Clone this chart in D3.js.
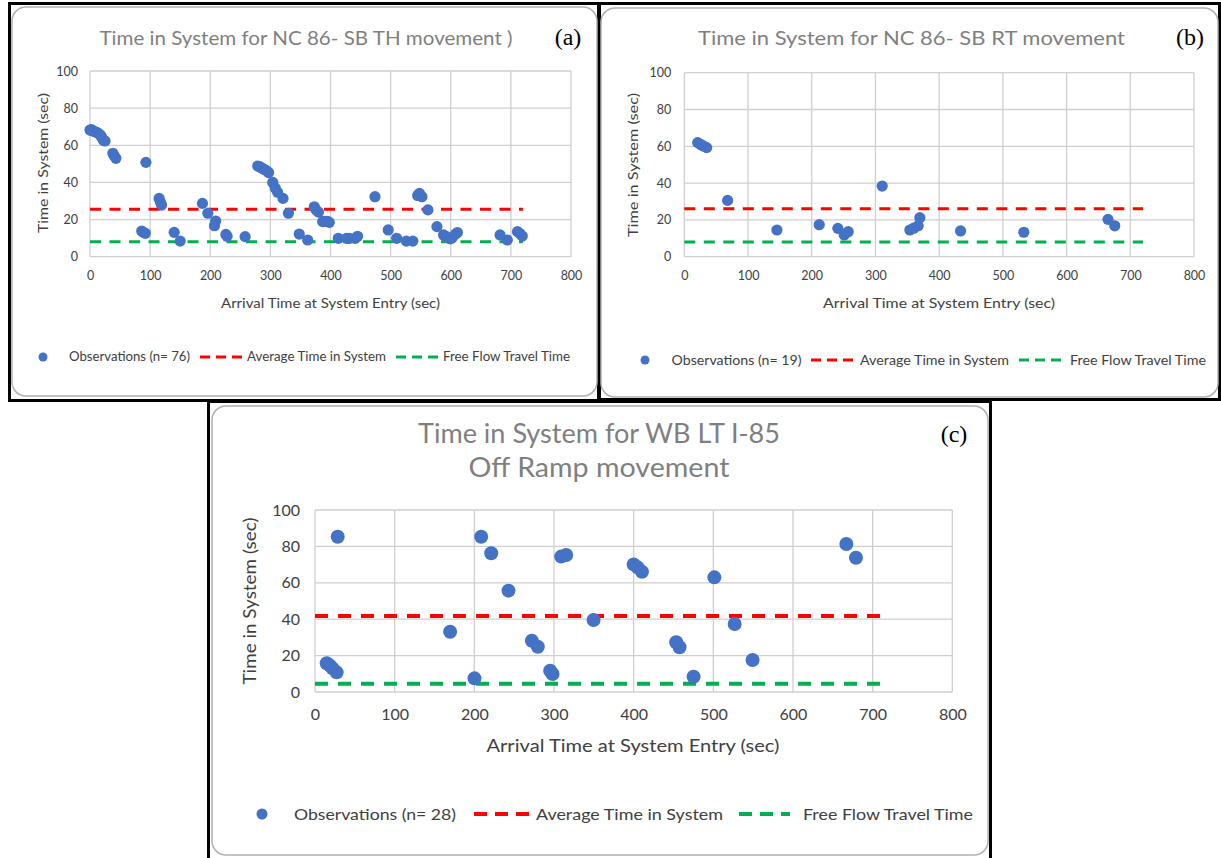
<!DOCTYPE html>
<html><head><meta charset="utf-8">
<script src="https://cdn.jsdelivr.net/npm/d3@7"></script>
<style>
body{margin:0;background:#fff;}
svg{display:block;font-family:Lato,'Open Sans',sans-serif;}
</style>
</head><body>
<svg id="chart" width="1221" height="858"></svg>
<script>
// ---------- DATA ----------
const xTickValues = [0,100,200,300,400,500,600,700,800];
const yTickValues = [0,20,40,60,80,100];

// Panel (a): NC 86 - SB TH
const obsA_arrival = [0,2,4,8,11,14,17,19,22,25,38,40,43,86,88,92,93,115,117,119,140,150,187,196,207,209,226,228,258,279,282,285,287,290,294,297,304,308,312,321,330,348,362,373,376,380,387,390,395,398,413,427,431,441,445,474,496,510,526,537,545,548,552,562,577,588,592,599,602,608,611,682,694,711,715,719];
const obsA_time    = [68.2,68.5,67.8,67.4,67,66.4,65.5,64.6,62.8,62.3,55.7,54.5,53,13.8,13.3,12.6,50.8,31.4,29.5,27.8,13.1,8.4,28.7,23.4,16.7,19.2,12,11,10.8,48.8,48.5,47.9,47.5,47,46.2,45.3,40,37,34.7,31.4,23.4,12.2,9,26.9,25.2,24,18.9,19,19,18.5,9.9,9.9,9.9,9.9,11,32.3,14.4,9.9,8.4,8.4,33,34.1,32.3,25.2,16.2,11.7,11,9.6,10,12.2,13,11.7,9,13.5,12.5,11.1];
const avgA = 25.5, freeA = 8.1;

// Panel (b): NC 86 - SB RT
const obsB_arrival = [21,25.7,29.8,35.1,68,145.4,211.8,241,251,257.3,310.6,354,360,367,369.7,433.6,532.9,665,675.6];
const obsB_time    = [62,61,60.2,59.3,30.6,14.5,17.4,15.4,11.8,13.6,38.4,14.5,15.5,16.8,21.2,14,13.3,20.3,16.8];
const avgB = 26.1, freeB = 8.0;

// Panel (c): WB LT I-85 Off Ramp
const obsC_arrival = [14.7,18.8,22,27.2,28.5,169.6,200.2,208.6,221.2,242.9,272.2,279.7,295.2,298.2,309,315.3,349.7,400,405,410.4,453.4,457.6,475.2,501.3,526.8,549.3,667,679.1];
const obsC_time    = [15.8,14.5,13,10.8,85.3,33.1,7.5,85.3,76.2,55.7,28.2,24.9,11.7,9.9,74.4,75.3,39.6,70.1,68.5,66.1,27.3,24.6,8.4,63,37.4,17.6,81.3,73.8];
const avgC = 41.8, freeC = 4.5;

const lineRange = [0, 720];
const titleA = ["Time in System for  NC 86- SB TH movement )"];
const titleB = ["Time in System for  NC 86- SB RT movement"];
const titleC = ["Time in System for WB LT I-85", "Off Ramp  movement"];
const xTitle = "Arrival Time at System Entry (sec)";
const yTitle = "Time in System (sec)";
const legendLabels = ["Average Time in System", "Free Flow Travel Time"];

// ---------- DRAW ----------
const svg = d3.select("#chart");
svg.append("rect").attr("width",1221).attr("height",858).attr("fill","#fff");

const BLUE="#4472C4", RED="#FF0000", GREEN="#00B050";

function panel(cfg){
  const g = svg.append("g");
  g.append("rect").attr("x",cfg.frame[0]).attr("y",cfg.frame[1]).attr("width",cfg.frame[2]).attr("height",cfg.frame[3])
    .attr("fill","#fff").attr("stroke","#000").attr("stroke-width",3);
  g.append("rect").attr("x",cfg.inner[0]).attr("y",cfg.inner[1]).attr("width",cfg.inner[2]).attr("height",cfg.inner[3])
    .attr("rx",14).attr("fill","#fff").attr("stroke","#b0b0b0").attr("stroke-width",1.5);

  const x = d3.scaleLinear().domain([0,800]).range(cfg.xr);
  const y = d3.scaleLinear().domain([0,100]).range(cfg.yr);

  const grid = g.append("g").attr("stroke","#cfcfcf").attr("stroke-width",1.3);
  xTickValues.forEach(v=>grid.append("line").attr("x1",x(v)).attr("x2",x(v)).attr("y1",y(0)).attr("y2",y(100)));
  yTickValues.forEach(v=>grid.append("line").attr("y1",y(v)).attr("y2",y(v)).attr("x1",x(0)).attr("x2",x(800)));

  const ax = g.append("g").attr("transform",`translate(0,${y(0)})`)
    .call(d3.axisBottom(x).tickValues(xTickValues).tickSize(0).tickPadding(cfg.xpad));
  const ay = g.append("g").attr("transform",`translate(${x(0)},0)`)
    .call(d3.axisLeft(y).tickValues(yTickValues).tickSize(0).tickPadding(cfg.ypad));
  [ax,ay].forEach(a=>{a.select(".domain").remove();
    a.selectAll("text").attr("fill","#404040").style("font-size",cfg.tickFont+"px").style("font-family","Lato, sans-serif");});

  const lines = [[cfg.avg,RED],[cfg.ff,GREEN]];
  lines.forEach(([v,c])=>{
    g.append("line").attr("x1",x(lineRange[0])).attr("x2",x(lineRange[1])).attr("y1",y(v)).attr("y2",y(v))
      .attr("stroke",c).attr("stroke-width",cfg.lw).attr("stroke-dasharray",cfg.dash);
  });

  g.append("g").selectAll("circle").data(cfg.xs.map((d,i)=>[d,cfg.ys[i]])).join("circle")
    .attr("cx",d=>x(d[0])).attr("cy",d=>y(d[1])).attr("r",cfg.r).attr("fill",BLUE);

  cfg.title.forEach((t,i)=>{
    g.append("text").attr("x",cfg.titleX).attr("y",cfg.titleY+i*cfg.titleLH).attr("text-anchor","middle")
      .attr("fill","#7f7f7f").style("font-size",cfg.titleFont+"px").attr("textLength",cfg.titleW[i]).attr("lengthAdjust","spacingAndGlyphs").text(t);
  });
  g.append("text").attr("x",cfg.tagX).attr("y",cfg.tagY).attr("text-anchor","middle")
    .style("font-family","'Liberation Serif','Times New Roman',serif").style("font-size",cfg.tagFont+"px").attr("fill","#000").text(cfg.tag);

  g.append("text").attr("x",cfg.xtX).attr("y",cfg.xtY).attr("text-anchor","middle").attr("fill","#404040")
    .style("font-size",cfg.axFont+"px").attr("textLength",cfg.xtW).attr("lengthAdjust","spacingAndGlyphs").text(xTitle);
  g.append("text").attr("transform",`translate(${cfg.ytX},${cfg.ytY}) rotate(-90)`).attr("text-anchor","middle")
    .attr("dy","0.35em").attr("fill","#404040").style("font-size",cfg.axFont+"px")
    .attr("textLength",cfg.ytW).attr("lengthAdjust","spacingAndGlyphs").text(yTitle);

  const L = cfg.leg, ly = L.y;
  g.append("circle").attr("cx",L.dot).attr("cy",ly).attr("r",L.r).attr("fill",BLUE);
  const lt = (xx,w,t)=>g.append("text").attr("x",xx).attr("y",ly).attr("dy","0.35em").attr("fill","#404040")
    .style("font-size",L.font+"px").attr("textLength",w).attr("lengthAdjust","spacingAndGlyphs").text(t);
  lt(L.t1[0],L.t1[1],`Observations (n= ${cfg.xs.length})`);
  g.append("line").attr("x1",L.d1[0]).attr("x2",L.d1[1]).attr("y1",ly).attr("y2",ly).attr("stroke",RED).attr("stroke-width",cfg.lw).attr("stroke-dasharray",L.dash);
  lt(L.t2[0],L.t2[1],legendLabels[0]);
  g.append("line").attr("x1",L.d2[0]).attr("x2",L.d2[1]).attr("y1",ly).attr("y2",ly).attr("stroke",GREEN).attr("stroke-width",cfg.lw).attr("stroke-dasharray",L.dash);
  lt(L.t3[0],L.t3[1],legendLabels[1]);
}

panel({frame:[9.5,3.5,589,397], inner:[12,7,585,389],
  xr:[90,571], yr:[256.7,71], xs:obsA_arrival, ys:obsA_time, avg:avgA, ff:freeA,
  xpad:14, ypad:12, tickFont:12.5, lw:3, dash:"11,8.5", r:5.6,
  title:titleA, titleX:306, titleY:45, titleLH:0, titleFont:20, titleW:[413],
  tag:"(a)", tagX:568, tagY:45, tagFont:24,
  xtX:330.5, xtY:308, xtW:219, ytX:43, ytY:163, ytW:140, axFont:13,
  leg:{y:357, dot:43, r:4.5, font:12.5, dash:"10,6", t1:[69,121], d1:[200,242], t2:[247,139], d2:[396,438], t3:[443,127]}
});

panel({frame:[599.5,3.5,620,396], inner:[601,8,617,389],
  xr:[684.3,1194], yr:[256.7,72.7], xs:obsB_arrival, ys:obsB_time, avg:avgB, ff:freeB,
  xpad:14, ypad:13, tickFont:12.5, lw:3, dash:"11,8.5", r:5.6,
  title:titleB, titleX:911.5, titleY:45, titleLH:0, titleFont:20, titleW:[427],
  tag:"(b)", tagX:1190, tagY:45, tagFont:24,
  xtX:939, xtY:308, xtW:232, ytX:633, ytY:165, ytW:144, axFont:13.5,
  leg:{y:360, dot:645, r:4.5, font:13, dash:"10,6", t1:[671.5,130], d1:[811,855], t2:[860,149], d2:[1019,1063], t3:[1070,136]}
});

panel({frame:[208.5,401.5,782,470], inner:[212,406,776,449],
  xr:[315,952.3], yr:[692,510], xs:obsC_arrival, ys:obsC_time, avg:avgC, ff:freeC,
  xpad:17, ypad:15, tickFont:16, lw:4, dash:"13,10", r:7,
  title:titleC, titleX:599, titleY:443, titleLH:34, titleFont:26, titleW:[362,261],
  tag:"(c)", tagX:954, tagY:442, tagFont:24,
  xtX:633, xtY:752, xtW:293, ytX:250, ytY:601, ytW:167, axFont:17,
  leg:{y:814, dot:262, r:5.5, font:16, dash:"13,8", t1:[294,162], d1:[474,529], t2:[536,187], d2:[739,790], t3:[803,170]}
});
</script>
</body></html>
